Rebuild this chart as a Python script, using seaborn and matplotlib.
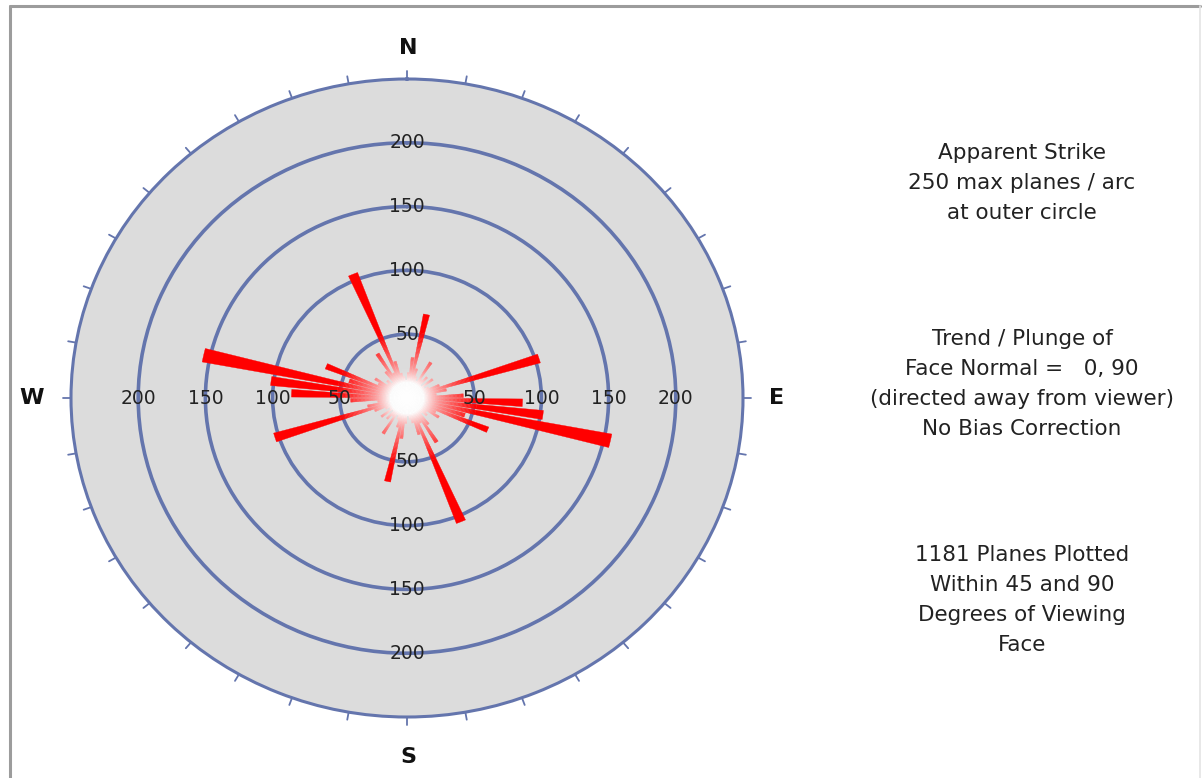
import numpy as np
import matplotlib
matplotlib.use("Agg")
import matplotlib.pyplot as plt
from matplotlib.lines import Line2D
import seaborn as sns

# Apparent strike counts in 5-degree bins from 0 to 180 degrees;
# each strike is also plotted at its opposite direction (+180).
bin_centers = [2.5, 7.5, 12.5, 17.5, 22.5, 27.5, 32.5, 37.5, 42.5, 47.5,
               52.5, 57.5, 62.5, 67.5, 72.5, 77.5, 82.5, 87.5, 92.5, 97.5,
               102.5, 107.5, 112.5, 117.5, 122.5, 127.5, 132.5, 137.5, 142.5,
               147.5, 152.5, 157.5, 162.5, 167.5, 172.5, 177.5]
plane_counts = [20, 32, 67, 24, 18, 15, 33, 18, 22, 14,
                24, 15, 18, 26, 103, 30, 22, 42, 86, 102,
                155, 45, 65, 24, 28, 18, 20, 16, 26,
                41, 22, 105, 30, 20, 17, 14]

ring_values = [50, 100, 150, 200]
ring_labels = ["50", "100", "150", "200"]
max_count = 250
label_directions = [0, 90, 180, 270]
compass_labels = ["N", "E", "S", "W"]

info_block_1 = ["Apparent Strike", "250 max planes / arc", "at outer circle"]
info_block_2 = ["Trend / Plunge of", "Face Normal =   0, 90",
                "(directed away from viewer)", "No Bias Correction"]
info_block_3 = ["1181 Planes Plotted", "Within 45 and 90",
                "Degrees of Viewing", "Face"]

sns.set_theme(style="white")
plt.rcParams["font.family"] = ["DejaVu Sans"]

W, H = 1203, 778
ring_color = "#6475ad"
text_color = "#222222"

fig = plt.figure(figsize=(W / 100, H / 100), dpi=100)
fig.patch.set_facecolor("white")

# Plot area: the circle centred at (407, 398) px
cx, cy, rx, ry = 407, 398, 336, 319
ax = fig.add_axes([(cx - rx) / W, (H - cy - ry) / H, 2 * rx / W, 2 * ry / H],
                  projection="polar")
ax.set_aspect("auto")
ax.set_theta_zero_location("N")
ax.set_theta_direction(-1)
ax.set_facecolor("#dcdcdc")
ax.set_ylim(0, max_count)
ax.set_yticks(ring_values)
ax.set_yticklabels([])
ax.set_xticks([])
ax.yaxis.grid(True, color=ring_color, linewidth=2.6)
ax.xaxis.grid(False)
ax.spines["polar"].set_color(ring_color)
ax.spines["polar"].set_linewidth(2.2)

# Rose petals: white at the centre fading to solid red
petal_cmap = sns.blend_palette(["white", "#ff0000"], n_colors=256, as_cmap=True)
theta_deg = np.concatenate([bin_centers, np.array(bin_centers) + 180.0])
counts = np.concatenate([plane_counts, plane_counts]).astype(float)
fade_start, fade_end, step = 13.0, 52.0, 1.0

seg_theta, seg_bottom, seg_height, seg_color = [], [], [], []
for th, v in zip(np.deg2rad(theta_deg), counts):
    r = 0.0
    while r < min(v, fade_end):
        h = min(step, v - r)
        t = np.clip((r + h / 2 - fade_start) / (fade_end - fade_start), 0, 1)
        seg_theta.append(th)
        seg_bottom.append(r)
        seg_height.append(h)
        seg_color.append(petal_cmap(t ** 0.7))
        r += h
    if v > r:
        seg_theta.append(th)
        seg_bottom.append(r)
        seg_height.append(v - r)
        seg_color.append(petal_cmap(1.0))

ax.bar(seg_theta, seg_height, width=np.deg2rad(4.0), bottom=seg_bottom,
       color=seg_color, edgecolor=seg_color, linewidth=0.25, align="center",
       zorder=3)

# Soft white glow over the centre of the rose
glow_r = np.arange(0, 26, 1.0)
ax.bar(np.zeros_like(glow_r), np.ones_like(glow_r), width=2 * np.pi,
       bottom=glow_r, color=[(1, 1, 1, float(np.clip(1.15 * (1 - (r + 0.5) / 26), 0, 1) ** 1.8))
                             for r in glow_r],
       linewidth=0, zorder=3.5)

# Ring value labels along the four compass directions
for d in label_directions:
    for val, lab in zip(ring_values, ring_labels):
        ax.text(np.deg2rad(d), val, lab, ha="center", va="center",
                fontsize=13.5, color=text_color, zorder=5)

# Outer tick marks every 10 degrees
for a in range(0, 360, 10):
    ax.plot([np.deg2rad(a)] * 2, [max_count, max_count + 6], color=ring_color,
            linewidth=1.3, clip_on=False, zorder=4)

# Compass letters
compass_pos = {"N": (408, 48), "E": (777, 398), "S": (408, 757), "W": (32, 398)}
for lab in compass_labels:
    px, py = compass_pos[lab]
    fig.text(px / W, 1 - py / H, lab, ha="center", va="center",
             fontsize=16, fontweight="bold", color="#111111")

# Information text on the right
text_x = 1022 / W
for lines, y0 in [(info_block_1, 153), (info_block_2, 339), (info_block_3, 555)]:
    for i, line in enumerate(lines):
        fig.text(text_x, 1 - (y0 + 30 * i) / H, line, ha="center", va="center",
                 fontsize=15.5, color=text_color)

# Frame around the graphic
fig.add_artist(Line2D([9.5 / W, 9.5 / W], [0, 1 - 5.5 / H], color="#9c9c9c",
                      linewidth=2.2, transform=fig.transFigure))
fig.add_artist(Line2D([9.5 / W, 1199.5 / W], [1 - 5.5 / H, 1 - 5.5 / H],
                      color="#9c9c9c", linewidth=2.2, transform=fig.transFigure))
fig.add_artist(Line2D([1199.5 / W, 1199.5 / W], [0, 1 - 5.5 / H], color="#e4e4e4",
                      linewidth=1.2, transform=fig.transFigure))

fig.savefig("out.png", dpi=100, facecolor="white")
